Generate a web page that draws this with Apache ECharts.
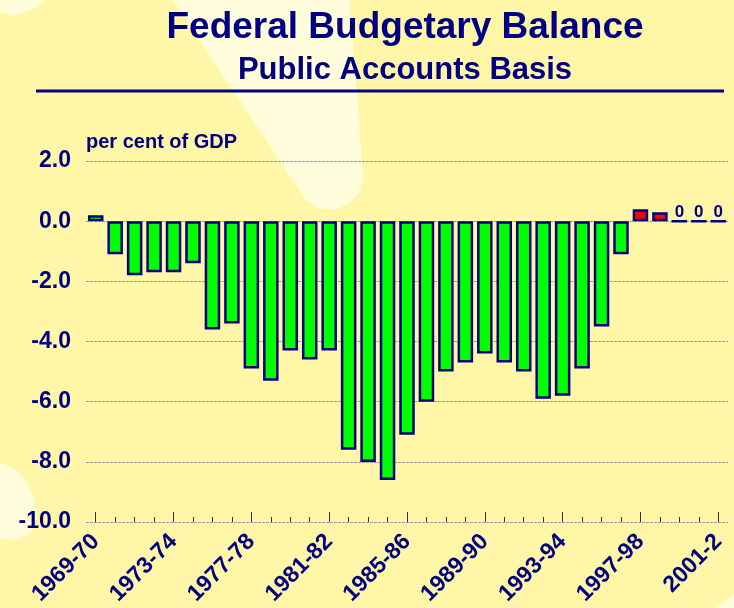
<!DOCTYPE html>
<html>
<head>
<meta charset="utf-8">
<title>Federal Budgetary Balance</title>
<script src="https://cdn.jsdelivr.net/npm/echarts@6/dist/echarts.min.js"></script>
<style>
html,body{margin:0;padding:0;background:#FFF6A8;}
#chart{width:734px;height:608px;}
</style>
</head>
<body>
<div id="chart"></div>
<script>
// fiscal years, one bar each
var years = ['1969-70','1970-71','1971-72','1972-73','1973-74','1974-75','1975-76','1976-77',
	'1977-78','1978-79','1979-80','1980-81','1981-82','1982-83','1983-84','1984-85',
	'1985-86','1986-87','1987-88','1988-89','1989-90','1990-91','1991-92','1992-93',
	'1993-94','1994-95','1995-96','1996-97','1997-98','1998-99','1999-00','2000-01','2001-2'];
// budgetary balance, per cent of GDP
var balance = [0.2,-1.1,-1.8,-1.7,-1.7,-1.4,-3.6,-3.4,-4.9,-5.3,-4.3,-4.6,-4.3,-7.6,-8.0,-8.6,
	-7.1,-6.0,-5.0,-4.7,-4.4,-4.7,-5.0,-5.9,-5.8,-4.9,-3.5,-1.1,0.4,0.3,0,0,0];
var yTicks = [-10, -8, -6, -4, -2, 0, 2];
var firstSurplus = '1997-98';

var navy = '#000080';
var font = "'Liberation Sans', Arial, sans-serif";

function initChart(elem){
	var myChart = echarts.init(document.getElementById(elem));
	var redFrom = years.indexOf(firstSurplus);
	var barData = [];
	for(var i=0;i<balance.length;i++){
		var item = {
			value: balance[i],
			itemStyle: {color: i>=redFrom ? '#FF0000' : '#00FF00'}
		};
		if(balance[i]===0){
			item.label = {show: true};
		}
		barData.push(item);
	}
	var option = {
		backgroundColor: '#FFF6A8',
		animation: false,
		textStyle: {fontFamily: font},
		title: [
			{text: 'Federal Budgetary Balance', left: 400, top: 4, textAlign: 'center',
				textStyle: {color: navy, fontSize: 37, fontWeight: 'bold', fontFamily: font}},
			{text: 'Public Accounts Basis', left: 400, top: 50, textAlign: 'center',
				textStyle: {color: navy, fontSize: 31, fontWeight: 'bold', fontFamily: font}}
		],
		graphic: [
			// pale shapes behind the chart
			{type: 'polygon', z: -5, silent: true,
				shape: {points: [[173,0],[349,0],[357,90],[363,180],[358,195],[346,205],[334,210],[318,208],[306,200]]},
				style: {fill: '#FFFDDC'}},
			{type: 'polygon', z: -5, silent: true,
				shape: {points: [[0,0],[44,0],[36,8],[15,15],[0,12]]},
				style: {fill: '#FFFDDC'}},
			{type: 'polygon', z: -5, silent: true,
				shape: {points: [[0,463],[14,468],[26,480],[34,498],[37,518],[31,533],[16,540],[0,539]]},
				style: {fill: '#FFFDDC'}},
			{type: 'polygon', z: -5, silent: true,
				shape: {points: [[716,608],[734,594],[734,608]]},
				style: {fill: '#FFFDDC'}},
			{type: 'line', z: 10, silent: true,
				shape: {x1: 36, y1: 91, x2: 724, y2: 91},
				style: {stroke: navy, lineWidth: 3}},
			{type: 'text', z: 10, left: 86, top: 132, silent: true,
				style: {text: 'per cent of GDP', fill: navy, font: 'bold 20px ' + font}}
		],
		grid: {left: 86, right: 6, top: 161, bottom: 84, containLabel: false},
		xAxis: [
			{
				type: 'category',
				data: years,
				position: 'bottom',
				axisLine: {show: false, onZero: false},
				axisTick: {show: true, inside: true, length: 5, interval: 0, alignWithLabel: true,
					lineStyle: {color: '#333', width: 1}},
				axisLabel: {show: false},
				splitLine: {show: false}
			},
			{
				type: 'category',
				data: years,
				position: 'bottom',
				axisLine: {show: false, onZero: false},
				axisTick: {show: true, inside: true, length: 10, interval: 3, alignWithLabel: true,
					lineStyle: {color: '#333', width: 1}},
				axisLabel: {show: true, interval: 3, rotate: 45, margin: 16,
					color: navy, fontSize: 23, fontWeight: 'bold', fontFamily: font},
				splitLine: {show: false}
			}
		],
		yAxis: {
			type: 'value',
			min: yTicks[0],
			max: yTicks[yTicks.length-1],
			interval: 2,
			axisLine: {show: false},
			axisTick: {show: false},
			axisLabel: {color: navy, fontSize: 23, fontWeight: 'bold', fontFamily: font, margin: 15,
				padding: [4, 0, 0, 0],
				formatter: function(v){ return v.toFixed(1); }},
			splitLine: {show: true, lineStyle: {color: '#999', type: [3,1], width: 1}}
		},
		series: [{
			type: 'bar',
			xAxisIndex: 0,
			data: barData,
			barWidth: 15.5,
			itemStyle: {borderColor: navy, borderWidth: 2.5},
			label: {show: false, position: 'top', distance: -1, formatter: '{c}',
				color: navy, fontSize: 17, fontWeight: 'bold', fontFamily: font}
		}]
	};
	myChart.setOption(option);
}
initChart('chart');
</script>
</body>
</html>
